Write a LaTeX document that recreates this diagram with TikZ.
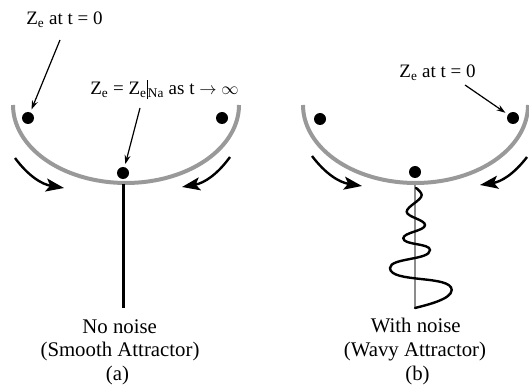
\documentclass[tikz,border=0pt]{standalone}
\usepackage{fontspec}
\setmainfont{Liberation Serif}
\usetikzlibrary{arrows.meta}
\newcommand{\Zbar}{\rule[-0.22em]{0.07em}{1.0em}}
\begin{document}
\begin{tikzpicture}[x=1pt,y=1pt,
  bowl/.style={draw=black!40, line width=4pt},
  dot/.style={circle, fill=black, inner sep=0pt, minimum size=12pt},
  lbl/.style={anchor=base, inner sep=0pt, font=\fontsize{19}{22}\selectfont},
  captext/.style={anchor=base, inner sep=0pt, font=\fontsize{20.8}{24}\selectfont},
  pointer/.style={line width=1.2pt, -{Stealth[length=9pt,width=6pt]}, shorten >=3pt},
  flow/.style={line width=2.4pt, -{Stealth[length=18pt,width=13pt,inset=4pt]}},
  stem/.style={line width=3pt},
  axisline/.style={draw=black!45, line width=1.3pt},
  wave/.style={line width=2.4pt, line cap=round, looseness=0.6}]
\useasboundingbox (0,0) rectangle (529,-387);
% bowls
\draw[bowl] plot[domain=180:360, samples=80] ({126+113*cos(\x)}, {-105+78*sin(\x)});
\draw[bowl] plot[domain=180:360, samples=80] ({415.5+112.5*cos(\x)}, {-105+78*sin(\x)});
% left panel
\coordinate (ltop) at (123,-184);
\coordinate (lbot) at (123,-308);
\draw[stem] (ltop) -- (lbot);
\node[dot] (d1) at (28,-118) {};
\node[dot] (d2) at (222,-118) {};
\node[dot] (d3) at (123,-173) {};
\node[lbl] (t1) at (64.5,-25) {Z\textsubscript{e} at t = 0};
\node[lbl] (t2) at (164.5,-95) {Z\textsubscript{e} = Z\textsubscript{e}\Zbar\textsubscript{Na} as t $\rightarrow$ $\infty$};
\coordinate (p1) at (60,-40);
\coordinate (p2) at (140,-108);
\draw[pointer] (p1) -- (d1);
\draw[pointer] (p2) -- (d3);
\coordinate (a1s) at (15,-158);
\coordinate (a1e) at (64,-188);
\coordinate (a2s) at (230,-157);
\coordinate (a2e) at (182,-187);
\draw[flow] (a1s) to[bend right=22] (a1e);
\draw[flow] (a2s) to[bend left=22] (a2e);
\node[captext] (c1) at (119.7,-333) {No noise};
\node[captext] (c2) at (120,-356) {(Smooth Attractor)};
\node[captext] (c3) at (117.5,-380) {(a)};
% right panel
\coordinate (rtop) at (415,-185);
\coordinate (rbot) at (415,-308);
\draw[axisline] (rtop) -- (rbot);
\draw[wave] (416,-188) to[out=-30,in=90] (421.7,-195) to[out=-90,in=90] (406.7,-211.7)
  to[out=-90,in=90] (425,-225) to[out=-90,in=90] (403.3,-238.3)
  to[out=-90,in=90] (430,-250) to[out=-90,in=90] (390,-268)
  to[out=-90,in=90] (451.7,-290) to[out=-90,in=15] (rbot);
\node[dot] (e1) at (320,-119) {};
\node[dot] (e2) at (513,-118) {};
\node[dot] (e3) at (415,-172) {};
\node[lbl] (t3) at (437.5,-78) {Z\textsubscript{e} at t = 0};
\coordinate (p3) at (465,-85);
\draw[pointer] (p3) -- (e2);
\coordinate (b1s) at (312,-156);
\coordinate (b1e) at (362,-186);
\coordinate (b2s) at (527,-157);
\coordinate (b2e) at (480,-185);
\draw[flow] (b1s) to[bend right=22] (b1e);
\draw[flow] (b2s) to[bend left=22] (b2e);
\node[captext] (c4) at (415.8,-332) {With noise};
\node[captext] (c5) at (415,-356) {(Wavy Attractor)};
\node[captext] (c6) at (417.5,-380) {(b)};
\end{tikzpicture}
\end{document}
